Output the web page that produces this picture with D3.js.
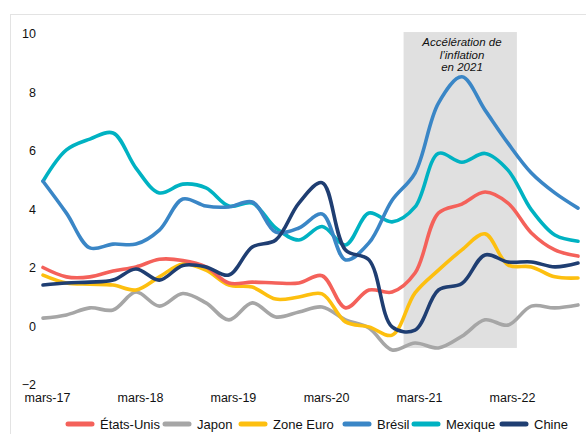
<!DOCTYPE html>
<html>
<head>
<meta charset="utf-8">
<style>
  body { margin: 0; background: #fff; }
  text { font-family: "Liberation Sans", Arial, sans-serif; fill: #111; }
</style>
</head>
<body>
<svg></svg>
<script src="https://d3js.org/d3.v7.min.js"></script>
<script>
  const width = 586;
  const height = 434;

  // quarterly points, mars-17 .. déc-22
  const quarters = d3.range(24).map(i => new Date(2017, 2 + 3 * i, 1));

  const etatsUnis = [2.0, 1.68, 1.68, 1.88, 2.02, 2.28, 2.24, 2.02, 1.47, 1.5, 1.47, 1.47, 1.72,
                     0.62, 1.23, 1.16, 1.81, 3.86, 4.17, 4.58, 4.2, 3.18, 2.6, 2.39];
  const japon = [0.27, 0.38, 0.62, 0.55, 1.16, 0.68, 1.11, 0.79, 0.21, 0.79, 0.31, 0.48, 0.65,
                 0.21, -0.07, -0.82, -0.58, -0.75, -0.35, 0.21, 0.03, 0.68, 0.62, 0.72];
  const zoneEuro = [1.74, 1.47, 1.43, 1.4, 1.23, 1.68, 2.12, 1.91, 1.4, 1.33, 0.92, 0.99, 1.1,
                    0.14, -0.03, -0.31, 1.13, 1.91, 2.6, 3.15, 2.09, 2.02, 1.68, 1.64];
  const bresil = [4.95, 3.86, 2.67, 2.8, 2.8, 3.28, 4.34, 4.1, 4.07, 4.24, 3.21, 3.35, 3.83,
                  2.26, 2.84, 4.3, 5.23, 7.62, 8.52, 7.38, 6.25, 5.23, 4.55, 4.03];
  const mexique = [4.95, 6.02, 6.39, 6.6, 5.4, 4.55, 4.85, 4.72, 4.1, 4.2, 3.35, 2.94, 3.4,
                   2.77, 3.86, 3.56, 4.07, 5.9, 5.6, 5.9, 5.33, 3.97, 3.11, 2.9];
  const chine = [1.4, 1.47, 1.5, 1.57, 1.95, 1.57, 2.07, 2.02, 1.74, 2.7, 2.94, 4.2, 4.9,
                 2.6, 2.26, -0.03, -0.14, 1.23, 1.45, 2.43, 2.19, 2.19, 2.02, 2.15];

  const seriesNames = ["États-Unis", "Japon", "Zone Euro", "Brésil", "Mexique", "Chine"];
  const seriesValues = [etatsUnis, japon, zoneEuro, bresil, mexique, chine];
  const seriesColors = ["#f4615a", "#a6a6a6", "#fdbf0f", "#3a86c6", "#00b2c2", "#1f3e72"];
  // draw order (back to front)
  const drawOrder = [1, 2, 0, 4, 3, 5];

  const yTicks = [-2, 0, 2, 4, 6, 8, 10];
  const xTickLabels = ["mars-17", "mars-18", "mars-19", "mars-20", "mars-21", "mars-22"];
  const xTickDates = d3.range(6).map(i => new Date(2017 + i, 2, 1));

  const shade = { start: new Date(2021, 0, 15), end: new Date(2022, 3, 5), top: 10.05, bottom: -0.75 };
  const shadeText = ["Accélération de", "l’inflation", "en 2021"];

  const svg = d3.select("svg").attr("width", width).attr("height", height);

  // frame
  svg.append("rect")
      .attr("x", 10.5).attr("y", 14.5)
      .attr("width", width).attr("height", height)
      .attr("fill", "none").attr("stroke", "#e3e3e3").attr("stroke-width", 1);

  const x = d3.scaleTime().domain([quarters[0], quarters[23]]).range([43, 578]);
  const y = d3.scaleLinear().domain([-2, 10]).range([384.5, 33.5]);

  // shaded period
  svg.append("rect")
      .attr("x", x(shade.start)).attr("y", y(shade.top))
      .attr("width", x(shade.end) - x(shade.start))
      .attr("height", y(shade.bottom) - y(shade.top))
      .attr("fill", "#e0e0e0");

  svg.append("text")
      .attr("x", 462).attr("y", 46)
      .attr("text-anchor", "middle")
      .style("font-size", "11.5px").style("font-style", "italic")
      .selectAll("tspan").data(shadeText).enter().append("tspan")
      .attr("x", 462).attr("dy", (d, i) => i === 0 ? 0 : 12.5)
      .text(d => d);

  // y axis labels
  const yAxis = d3.axisLeft(y).tickValues(yTicks).tickSize(0).tickPadding(0);
  const gy = svg.append("g").attr("transform", "translate(36,0)").call(yAxis);
  gy.select(".domain").remove();
  gy.selectAll("text").style("font-size", "12.5px").attr("fill", "#111")
      .style("font-family", "'Liberation Sans', Arial, sans-serif");

  // x axis labels
  const xAxis = d3.axisBottom(x).tickValues(xTickDates).tickSize(0).tickPadding(0)
      .tickFormat((d, i) => xTickLabels[i]);
  const gx = svg.append("g").attr("transform", "translate(4,393)").call(xAxis);
  gx.select(".domain").remove();
  gx.selectAll("text").style("font-size", "12.5px").attr("fill", "#111")
      .style("font-family", "'Liberation Sans', Arial, sans-serif");

  const line = d3.line()
      .x((d, i) => x(quarters[i]))
      .y(d => y(d))
      .curve(d3.curveCatmullRom.alpha(0.5));

  svg.append("g").selectAll("path")
      .data(drawOrder)
      .enter().append("path")
      .attr("d", k => line(seriesValues[k]))
      .attr("fill", "none")
      .attr("stroke", k => seriesColors[k])
      .attr("stroke-width", 3.6)
      .attr("stroke-linejoin", "round")
      .attr("stroke-linecap", "round");

  // legend
  const legendX = [66, 163, 239, 343, 412, 500];
  const legend = svg.append("g").selectAll("g")
      .data(seriesNames)
      .enter().append("g")
      .attr("transform", (d, i) => `translate(${legendX[i]},424)`);
  legend.append("line")
      .attr("x1", 2).attr("x2", 26).attr("y1", 0).attr("y2", 0)
      .attr("stroke", (d, i) => seriesColors[i])
      .attr("stroke-width", 5).attr("stroke-linecap", "round");
  legend.append("text")
      .attr("x", 34).attr("y", 4.5)
      .style("font-size", "13px")
      .text(d => d);
</script>
</body>
</html>
